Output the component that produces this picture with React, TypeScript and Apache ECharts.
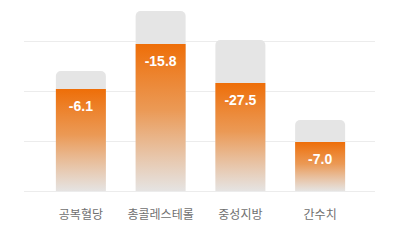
import React, { useEffect, useRef } from "react";
import * as echarts from "echarts";

const categories = ["공복혈당", "총콜레스테롤", "중성지방", "간수치"];
const baselineValues = [120, 180, 151, 71];
const currentValues = [102, 147, 108, 49];
const changeValues = [-6.1, -15.8, -27.5, -7.0];
const gridMax = 150;
const gridInterval = 50;
const barAxisMax = 180;

export default function App() {
  const ref = useRef<HTMLDivElement>(null);
  useEffect(() => {
    if (!ref.current) return;
    const chart = echarts.init(ref.current, null, { renderer: "svg" });
    chart.setOption({
      animation: false,
      backgroundColor: "#ffffff",
      grid: [
        { left: 24, right: 25, top: 41, bottom: 49 },
        { left: 41, right: 40, top: 11, bottom: 49 },
      ],
      xAxis: [
        { gridIndex: 0, type: "category", data: categories, show: false },
        {
          gridIndex: 1,
          type: "category",
          data: categories,
          axisLine: { show: false },
          axisTick: { show: false },
          axisLabel: {
            interval: 0,
            margin: 16,
            color: "#707070",
            fontSize: 12,
            fontFamily: "Noto Sans CJK KR",
          },
        },
      ],
      yAxis: [
        {
          gridIndex: 0,
          type: "value",
          min: 0,
          max: gridMax,
          interval: gridInterval,
          axisLine: { show: false },
          axisTick: { show: false },
          axisLabel: { show: false },
          splitLine: { lineStyle: { color: "#ececec", width: 1 } },
        },
        { gridIndex: 1, type: "value", min: 0, max: barAxisMax, show: false, splitLine: { show: false } },
      ],
      series: [
        {
          type: "bar",
          xAxisIndex: 1,
          yAxisIndex: 1,
          data: baselineValues,
          barWidth: 50,
          barGap: "-100%",
          itemStyle: { color: "#e5e5e5", borderRadius: [5, 5, 0, 0] },
          z: 2,
        },
        {
          type: "bar",
          xAxisIndex: 1,
          yAxisIndex: 1,
          data: currentValues,
          barWidth: 50,
          barGap: "-100%",
          z: 3,
          itemStyle: {
            color: new echarts.graphic.LinearGradient(0, 0, 0, 1, [
              { offset: 0, color: "rgba(238,110,8,1)" },
              { offset: 0.45, color: "rgba(236,140,60,0.85)" },
              { offset: 1, color: "rgba(236,150,80,0.02)" },
            ]),
          },
          label: {
            show: true,
            position: "insideTop",
            distance: 10,
            color: "#ffffff",
            fontSize: 14,
            fontWeight: "bold",
            fontFamily: "Liberation Sans, Arial, sans-serif",
            formatter: (p: any) => changeValues[p.dataIndex].toFixed(1),
          },
        },
      ],
    });
    return () => chart.dispose();
  }, []);
  return (
    <div
      ref={ref}
      style={{ position: "fixed", left: 0, top: 0, width: 400, height: 240 }}
    />
  );
}
